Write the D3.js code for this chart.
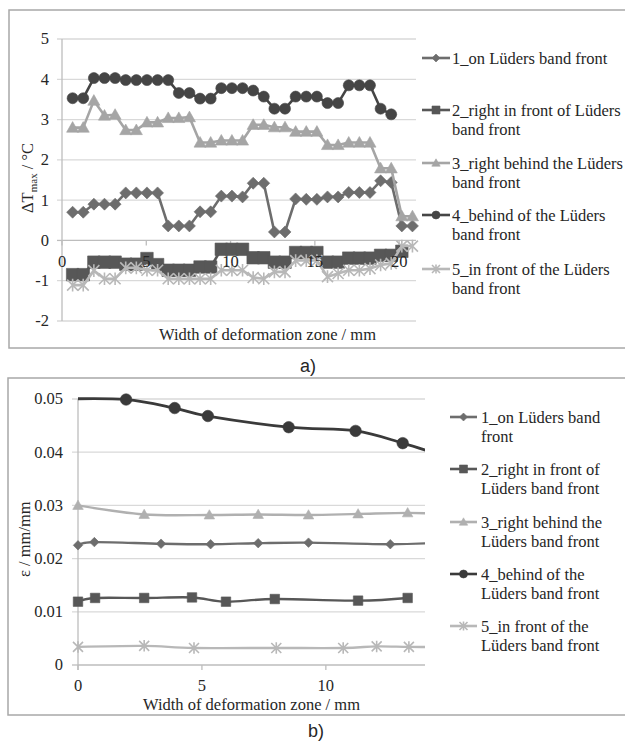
<!DOCTYPE html>
<html><head><meta charset="utf-8">
<script src="https://cdn.jsdelivr.net/npm/d3@7"></script>
<style>body{margin:0;background:#fff}svg{display:block}text{font-family:"Liberation Serif","Times New Roman",serif;fill:#262626}</style>
</head><body>
<svg id="c" width="625" height="743"></svg>
<script>
// ---------- DATA: chart a) ----------
const topX = [0.63,1.26,1.89,2.52,3.15,3.78,4.41,5.04,5.67,6.30,6.93,7.56,8.19,8.82,9.45,10.08,10.71,11.34,11.97,12.60,13.23,13.86,14.49,15.12,15.75,16.38,17.01,17.64,18.27,18.90,19.53,20.16,20.79];
const topS1 = [0.70,0.70,0.90,0.90,0.90,1.18,1.18,1.18,1.18,0.36,0.36,0.36,0.71,0.71,1.10,1.10,1.08,1.42,1.42,0.21,0.21,1.03,1.02,1.02,1.08,1.08,1.19,1.19,1.19,1.48,1.44,0.36,0.36];
const topS2 = [-0.85,-0.85,-0.54,-0.54,-0.54,-0.59,-0.59,-0.45,-0.60,-0.74,-0.74,-0.74,-0.66,-0.66,-0.22,-0.22,-0.22,-0.43,-0.43,-0.54,-0.54,-0.30,-0.30,-0.30,-0.54,-0.54,-0.44,-0.44,-0.44,-0.37,-0.37,-0.27];
const topS3 = [2.80,2.80,3.47,3.10,3.12,2.74,2.74,2.93,2.93,3.04,3.04,3.06,2.43,2.43,2.48,2.48,2.48,2.87,2.87,2.81,2.81,2.70,2.70,2.70,2.37,2.37,2.43,2.43,2.43,1.79,1.79,0.60,0.60];
const topS4 = [3.53,3.53,4.03,4.03,4.03,3.98,3.98,3.98,3.98,3.98,3.66,3.66,3.52,3.52,3.78,3.78,3.78,3.72,3.57,3.27,3.27,3.57,3.57,3.57,3.41,3.41,3.85,3.85,3.85,3.27,3.13];
const topS5 = [-1.11,-1.11,-0.75,-0.95,-0.95,-0.68,-0.68,-0.74,-0.74,-0.95,-0.95,-0.95,-0.95,-0.95,-0.74,-0.74,-0.74,-0.92,-0.95,-0.78,-0.78,-0.50,-0.50,-0.50,-0.90,-0.82,-0.74,-0.74,-0.70,-0.61,-0.57,-0.14,-0.14];
const topYTicks = [-2,-1,0,1,2,3,4,5];
const topXTicks = [0,5,10,15,20];
const topLegend = [
  ["1_on Lüders band front"],
  ["2_right in front of Lüders","band front"],
  ["3_right behind the Lüders","band front"],
  ["4_behind of the Lüders","band front"],
  ["5_in front of the Lüders","band front"]
];

// ---------- DATA: chart b) ----------
const botS1X = [0,0.66,3.35,5.35,7.27,9.30,12.60,14.60];
const botS1Y = [0.0225,0.0231,0.0228,0.0227,0.0229,0.0230,0.0227,0.0230];
const botS2X = [0,0.69,2.67,4.60,5.97,7.94,11.30,13.30];
const botS2Y = [0.0119,0.0126,0.0126,0.0127,0.0119,0.0124,0.0121,0.0126];
const botS3X = [0,2.67,5.30,7.27,9.30,11.30,13.30,14.60];
const botS3Y = [0.0300,0.0283,0.0282,0.0283,0.0282,0.0284,0.0286,0.0284];
const botS4X = [-0.60,1.94,3.90,5.24,8.50,11.20,13.10,14.60];
const botS4Y = [0.0500,0.0499,0.0483,0.0468,0.0447,0.0440,0.0417,0.0395];
const botS5X = [0,2.67,4.68,8.00,10.70,12.05,13.35,14.60];
const botS5Y = [0.0034,0.0036,0.0032,0.0032,0.0032,0.0035,0.0034,0.0034];
const botYTicks = [0,0.01,0.02,0.03,0.04,0.05];
const botXTicks = [0,5,10];
const botLegend = [
  ["1_on Lüders band","front"],
  ["2_right in front of","Lüders band front"],
  ["3_right behind the","Lüders band front"],
  ["4_behind of the","Lüders band front"],
  ["5_in front of the","Lüders band front"]
];

// ---------- STYLE ----------
const colors = ["#6d6d6d","#575757","#a5a5a5","#454545","#b8b8b8"];
const shapes = ["diamond","square","triangle","circle","star"];

function markerPath(type, s){
  const h = s/2;
  switch(type){
    case "diamond": return `M0,${-h}L${h},0L0,${h}L${-h},0Z`;
    case "square": return `M${-h},${-h}H${h}V${h}H${-h}Z`;
    case "triangle": return `M0,${-h*1.05}L${h*1.05},${h*0.8}L${-h*1.05},${h*0.8}Z`;
    case "circle": return `M${h},0A${h},${h} 0 1,1 ${-h},0A${h},${h} 0 1,1 ${h},0Z`;
    case "star": return `M${-h},${-h}L${h},${h}M${-h},${h}L${h},${-h}M0,${-h*1.15}L0,${h*1.15}`;
  }
}
function drawMarker(g, type, x, y, s, color){
  const p = g.append("path").attr("d", markerPath(type, s)).attr("transform", `translate(${x},${y})`);
  if(type === "star") p.attr("fill","none").attr("stroke",color).attr("stroke-width",1.6);
  else p.attr("fill",color).attr("stroke",color).attr("stroke-width",0.6);
}

const svg = d3.select("#c");
const FS = 16.5;

// frames
svg.append("rect").attr("x",9).attr("y",10).attr("width",630).attr("height",338).attr("fill","none").attr("stroke","#a8a8a8").attr("stroke-width",1.5);
svg.append("rect").attr("x",8).attr("y",378).attr("width",630).attr("height",337).attr("fill","none").attr("stroke","#a8a8a8").attr("stroke-width",1.5);

// ================= CHART a) =================
{
  const g = svg.append("g");
  const x = d3.scaleLinear().domain([0,21]).range([62,416]);
  const y = d3.scaleLinear().domain([-2,5]).range([321,39]);
  g.selectAll(".gr").data(topYTicks.filter(d=>d!==0)).join("line")
    .attr("x1",x(0)-5).attr("x2",x(21)).attr("y1",d=>y(d)).attr("y2",d=>y(d))
    .attr("stroke","#d9d9d9").attr("stroke-width",1.3);
  g.append("line").attr("x1",x(0)-5).attr("x2",x(0)).attr("y1",y(0)).attr("y2",y(0)).attr("stroke","#bdbdbd").attr("stroke-width",1.3);
  g.append("line").attr("x1",x(0)).attr("x2",x(0)).attr("y1",y(5)).attr("y2",y(-2)).attr("stroke","#bdbdbd").attr("stroke-width",1.3);
  g.append("line").attr("x1",x(0)).attr("x2",x(21)).attr("y1",y(0)).attr("y2",y(0)).attr("stroke","#bdbdbd").attr("stroke-width",1.3);
  g.selectAll(".xt").data(topXTicks).join("line")
    .attr("x1",d=>x(d)).attr("x2",d=>x(d)).attr("y1",y(0)).attr("y2",y(0)+5).attr("stroke","#bdbdbd").attr("stroke-width",1.3);
  g.selectAll(".yl").data(topYTicks).join("text")
    .attr("x",49).attr("y",d=>y(d)).attr("dy","0.33em").attr("text-anchor","end").attr("font-size",FS)
    .text(d=>String(d));
  const series = [topS1,topS2,topS3,topS4,topS5];
  const line = d3.line().x(d=>x(d[0])).y(d=>y(d[1]));
  const sizes = {diamond:12,square:12.5,triangle:11.5,circle:11,star:11};
  [0,1,2,3,4].forEach(i=>{
    const pts = series[i].map((v,k)=>[topX[k],v]);
    g.append("path").attr("d",line(pts)).attr("fill","none").attr("stroke",colors[i]).attr("stroke-width",2.6).attr("stroke-linejoin","round");
    pts.forEach(p=>drawMarker(g,shapes[i],x(p[0]),y(p[1]),sizes[shapes[i]],colors[i]));
  });
  g.selectAll(".xl").data(topXTicks).join("text")
    .attr("x",d=>x(d)).attr("y",267).attr("text-anchor","middle").attr("font-size",FS).text(d=>String(d));
  g.append("text").attr("x",159).attr("y",340).attr("font-size",FS).text("Width of deformation  zone / mm");
  const yt = g.append("text").attr("transform","translate(33,213) rotate(-90)").attr("font-size",FS);
  yt.append("tspan").text("ΔT");
  yt.append("tspan").attr("font-size",11).attr("dy",4).text("max");
  yt.append("tspan").attr("dy",-4).text(" / °C");
  const legY = [58,110,163,215,269];
  topLegend.forEach((lines,i)=>{
    g.append("line").attr("x1",422).attr("x2",450).attr("y1",legY[i]).attr("y2",legY[i]).attr("stroke",colors[i]).attr("stroke-width",2.6);
    drawMarker(g,shapes[i],436,legY[i],8,colors[i]);
    lines.forEach((t,j)=>{
      g.append("text").attr("x",452).attr("y",legY[i]+5.5+j*19.3).attr("font-size",FS).text(t);
    });
  });
}

// ================= CHART b) =================
{
  const g = svg.append("g");
  const x = d3.scaleLinear().domain([0,14]).range([78,425]);
  const y = d3.scaleLinear().domain([0,0.05]).range([665,399]);
  svg.append("clipPath").attr("id","clipb").append("rect").attr("x",x(0)).attr("y",380).attr("width",x(14)-x(0)).attr("height",300);
  g.selectAll(".gr").data(botYTicks.filter(d=>d!==0)).join("line")
    .attr("x1",x(0)-6).attr("x2",x(14)).attr("y1",d=>y(d)).attr("y2",d=>y(d))
    .attr("stroke","#d9d9d9").attr("stroke-width",1.3);
  g.append("line").attr("x1",x(0)-6).attr("x2",x(0)).attr("y1",y(0)).attr("y2",y(0)).attr("stroke","#bdbdbd").attr("stroke-width",1.3);
  g.append("line").attr("x1",x(0)).attr("x2",x(0)).attr("y1",y(0.05)).attr("y2",y(0)+5).attr("stroke","#bdbdbd").attr("stroke-width",1.3);
  g.append("line").attr("x1",x(0)).attr("x2",x(14)).attr("y1",y(0)).attr("y2",y(0)).attr("stroke","#bdbdbd").attr("stroke-width",1.3);
  g.selectAll(".xt").data(botXTicks).join("line")
    .attr("x1",d=>x(d)).attr("x2",d=>x(d)).attr("y1",y(0)).attr("y2",y(0)+5).attr("stroke","#bdbdbd").attr("stroke-width",1.3);
  g.selectAll(".yl").data(botYTicks).join("text")
    .attr("x",63).attr("y",d=>y(d)).attr("dy","0.33em").attr("text-anchor","end").attr("font-size",FS)
    .text(d=>d===0?"0":d.toFixed(2));
  g.selectAll(".xl").data(botXTicks).join("text")
    .attr("x",d=>x(d)).attr("y",691).attr("text-anchor","middle").attr("font-size",FS).text(d=>String(d));
  const XS = [botS1X,botS2X,botS3X,botS4X,botS5X];
  const YS = [botS1Y,botS2Y,botS3Y,botS4Y,botS5Y];
  const lcol = ["#6d6d6d","#575757","#b0b0b0","#3a3a3a","#b8b8b8"];
  const line = d3.line().x(d=>x(d[0])).y(d=>y(d[1])).curve(d3.curveCatmullRom.alpha(0));
  const msz = {diamond:9.5,square:9.5,triangle:10,circle:11.5,star:10};
  [0,1,2,3,4].forEach(i=>{
    const pts = XS[i].map((v,k)=>[v,YS[i][k]]);
    g.append("path").attr("d",line(pts)).attr("clip-path","url(#clipb)").attr("fill","none")
      .attr("stroke",lcol[i]).attr("stroke-width",i===3?2.8:2.4);
    pts.filter(p=>p[0]>=0 && p[0]<=14).forEach(p=>drawMarker(g,shapes[i],x(p[0]),y(p[1]),msz[shapes[i]],lcol[i]));
  });
  g.append("text").attr("x",251.5).attr("y",710).attr("text-anchor","middle").attr("font-size",FS).text("Width of deformation  zone / mm");
  g.append("text").attr("transform","translate(30,577) rotate(-90)").attr("font-size",FS).text("ε / mm/mm");
  const legY = [417,469,522,574,626];
  botLegend.forEach((lines,i)=>{
    g.append("line").attr("x1",450).attr("x2",477).attr("y1",legY[i]).attr("y2",legY[i]).attr("stroke",lcol[i]).attr("stroke-width",2.6);
    drawMarker(g,shapes[i],463.5,legY[i],8,lcol[i]);
    lines.forEach((t,j)=>{
      g.append("text").attr("x",481).attr("y",legY[i]+5.5+j*19).attr("font-size",FS).text(t);
    });
  });
}

// panel labels
svg.append("text").attr("x",300).attr("y",372).attr("font-size",18).style("font-family","'Liberation Sans',Arial,sans-serif").text("a)");
svg.append("text").attr("x",308).attr("y",737).attr("font-size",18).style("font-family","'Liberation Sans',Arial,sans-serif").text("b)");
</script>
</body></html>
